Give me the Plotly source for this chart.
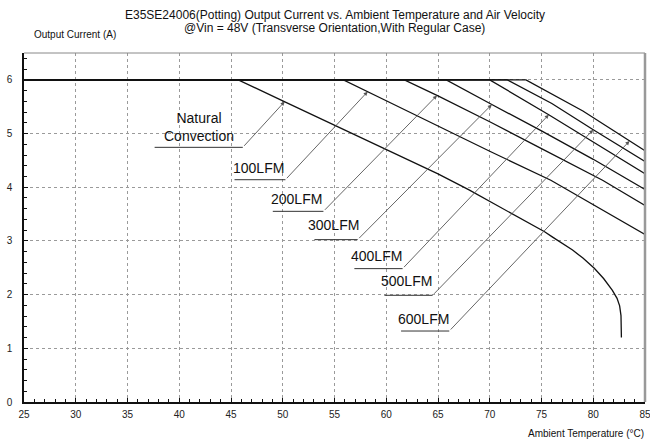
import numpy as np
import plotly.graph_objects as go

# ---- data ----
series_names = ["Natural Convection", "100LFM", "200LFM", "300LFM", "400LFM", "500LFM", "600LFM"]

nat_x = [25, 45.7, 50, 55, 60, 65, 68, 70, 72.2, 74, 75.3, 76, 77, 78, 79, 80.1, 81, 81.85, 82.3, 82.55, 82.68, 82.72, 82.72]
nat_y = [6, 6, 5.61, 5.16, 4.71, 4.25, 3.95, 3.74, 3.51, 3.31, 3.17, 3.08, 2.96, 2.83, 2.68, 2.49, 2.30, 2.08, 1.93, 1.79, 1.61, 1.40, 1.20]

lfm100_x = [25, 55.86, 60, 65.1, 70, 75.9, 80, 85]
lfm100_y = [6, 6, 5.61, 5.13, 4.67, 4.13, 3.68, 3.12]

lfm200_x = [25, 61.75, 65, 70, 75, 80.9, 85]
lfm200_y = [6, 6, 5.70, 5.22, 4.72, 4.13, 3.66]

lfm300_x = [25, 65.8, 70.2, 75, 80, 85]
lfm300_y = [6, 6, 5.54, 5.05, 4.52, 3.96]

lfm400_x = [25, 70.0, 75.7, 80, 85]
lfm400_y = [6, 6, 5.35, 4.84, 4.25]

lfm500_x = [25, 71.7, 76, 80, 85]
lfm500_y = [6, 6, 5.56, 5.07, 4.48]

lfm600_x = [25, 73.5, 79, 83.5, 85]
lfm600_y = [6, 6, 5.42, 4.86, 4.68]

x_tick_vals = [25, 30, 35, 40, 45, 50, 55, 60, 65, 70, 75, 80, 85]
y_tick_vals = [0, 1, 2, 3, 4, 5, 6]

# label texts and anchor positions (data units)
label_texts = ["Natural<br>Convection", "100LFM", "200LFM", "300LFM", "400LFM", "500LFM", "600LFM"]
label_x = [41.89, 47.68, 51.29, 54.92, 59.07, 61.97, 63.58]
label_y = [5.128, 4.357, 3.79, 3.29, 2.713, 2.248, 1.553]
under_x0 = [37.62, 45.34, 49.04, 53.06, 56.92, 59.82, 61.43]
under_x1 = [46.14, 50.26, 53.93, 57.24, 61.58, 64.48, 66.09]
under_y = [4.743, 4.14, 3.551, 3.024, 2.484, 1.987, 1.322]
arrow_x = [50.18, 58.2, 64.9, 70.2, 75.7, 80.0, 83.5]

title_lines = ["E35SE24006(Potting) Output Current vs. Ambient Temperature and Air Velocity",
               "@Vin = 48V (Transverse Orientation,With Regular Case)"]
y_title = "Output Current (A)"
x_title = "Ambient Temperature (°C)"

curves = [(nat_x, nat_y), (lfm100_x, lfm100_y), (lfm200_x, lfm200_y), (lfm300_x, lfm300_y),
          (lfm400_x, lfm400_y), (lfm500_x, lfm500_y), (lfm600_x, lfm600_y)]

FONT = "Liberation Sans, Arial, sans-serif"

fig = go.Figure()
for name, (cx, cy) in zip(series_names, curves):
    fig.add_trace(go.Scatter(x=cx, y=cy, mode="lines", name=name,
                             line=dict(color="#111111", width=1.3), showlegend=False))

annotations = []
for i, (cx, cy) in enumerate(curves):
    fig.add_trace(go.Scatter(x=[under_x0[i], under_x1[i]], y=[under_y[i], under_y[i]], mode="lines",
                             line=dict(color="#333333", width=1), showlegend=False, hoverinfo="skip"))
    if i == 0:
        tip_y = float(np.interp(arrow_x[i], cx[1:], cy[1:]))
    else:
        tip_y = float(np.interp(arrow_x[i], cx, cy))
    annotations.append(dict(x=arrow_x[i], y=tip_y, ax=under_x1[i], ay=under_y[i],
                            xref="x", yref="y", axref="x", ayref="y", text="",
                            showarrow=True, arrowhead=2, arrowsize=0.9, arrowwidth=0.9,
                            arrowcolor="#555555", standoff=0))
    annotations.append(dict(x=label_x[i], y=label_y[i], xref="x", yref="y", text=label_texts[i],
                            showarrow=False, font=dict(family=FONT, size=14, color="#111111"),
                            xanchor="center", yanchor="middle"))

annotations.append(dict(x=0.5, y=1.108, xref="paper", yref="paper", text=title_lines[0],
                        showarrow=False, xanchor="center", yanchor="middle",
                        font=dict(family=FONT, size=12, color="#111111")))
annotations.append(dict(x=0.5, y=1.0728, xref="paper", yref="paper", text=title_lines[1],
                        showarrow=False, xanchor="center", yanchor="middle",
                        font=dict(family=FONT, size=12, color="#111111")))
annotations.append(dict(x=0.0124, y=1.0527, xref="paper", yref="paper", text=y_title,
                        showarrow=False, xanchor="left", yanchor="middle",
                        font=dict(family=FONT, size=10, color="#111111")))
annotations.append(dict(x=1.0023, y=-0.0905, xref="paper", yref="paper", text=x_title,
                        showarrow=False, xanchor="right", yanchor="middle",
                        font=dict(family=FONT, size=10, color="#111111")))

fig.update_layout(
    template="none",
    width=650, height=443,
    margin=dict(l=24, r=5, t=53, b=41),
    paper_bgcolor="white", plot_bgcolor="white",
    annotations=annotations,
    showlegend=False,
    xaxis=dict(range=[25, 85], tickvals=x_tick_vals, ticks="inside", ticklen=4, tickwidth=1,
               tickcolor="#111111", showline=True, linecolor="#111111", linewidth=1.5,
               showgrid=True, gridcolor="#9a9a9a", griddash="dot", gridwidth=1,
               zeroline=False, automargin=False, ticklabelstandoff=2,
               ticklabeloverflow="allow",
               tickfont=dict(family=FONT, size=10, color="#222222"),
               minor=dict(dtick=1, ticks="inside", ticklen=3, tickcolor="#111111", showgrid=False)),
    yaxis=dict(range=[0, 6.5], tickvals=y_tick_vals, ticks="inside", ticklen=4, tickwidth=1,
               tickcolor="#111111", showline=True, linecolor="#111111", linewidth=1.5,
               showgrid=True, gridcolor="#9a9a9a", griddash="dot", gridwidth=1,
               zeroline=False, automargin=False, ticklabelstandoff=8,
               ticklabeloverflow="allow",
               tickfont=dict(family=FONT, size=10, color="#222222"),
               minor=dict(dtick=0.2, ticks="inside", ticklen=3, tickcolor="#111111", showgrid=False)),
    shapes=[
        dict(type="line", xref="x domain", yref="y domain", x0=0, x1=1, y0=1, y1=1,
             line=dict(color="#888888", width=1)),
        dict(type="line", xref="x domain", yref="y domain", x0=1, x1=1, y0=0, y1=1,
             line=dict(color="#999999", width=2.5)),
    ],
)

fig.write_html("out.html", config={"displayModeBar": False},
               post_script="document.body.style.margin='0px';")
